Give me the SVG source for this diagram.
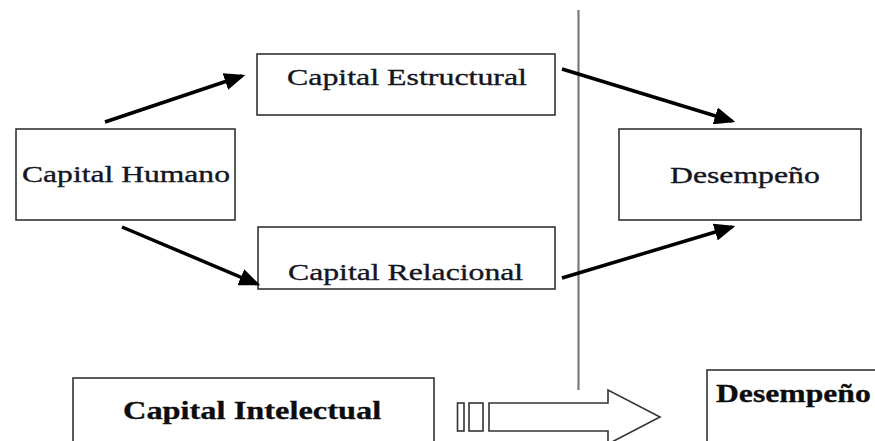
<svg xmlns="http://www.w3.org/2000/svg" width="875" height="441" viewBox="0 0 875 441">
  <style>
    .box { fill: #ffffff; stroke: #333333; stroke-width: 1.6; }
    .lbl { font-family: "Liberation Serif", "Times New Roman", serif; font-size: 24px; fill: #15151f; stroke: #15151f; stroke-width: 0.35; }
    .bold { font-weight: bold; font-size: 25px; fill: #0d0d0d; stroke: #0d0d0d; stroke-width: 0.3; }
    .link { stroke: #000000; stroke-width: 3.5; fill: none; marker-end: url(#head); }
    .outline { fill: #ffffff; stroke: #333333; stroke-width: 1.6; }
  </style>
  <defs>
    <marker id="head" markerWidth="6" markerHeight="5" refX="5" refY="2.5" orient="auto" markerUnits="strokeWidth">
      <path d="M0,0 L6,2.5 L0,5 Z" fill="#000000"/>
    </marker>
  </defs>

  <rect width="875" height="441" fill="#ffffff"/>

  <!-- divider between upper and lower parts -->
  <line x1="578.5" y1="10" x2="578.5" y2="390" stroke="#7a7a7a" stroke-width="2.2"/>

  <g id="capital-humano">
    <rect class="box" x="16" y="129" width="219" height="91"/>
    <text class="lbl" transform="translate(22,182) scale(1.317,1)">Capital Humano</text>
  </g>

  <g id="capital-estructural">
    <rect class="box" x="257" y="54" width="298" height="61"/>
    <text class="lbl" transform="translate(287,85) scale(1.329,1)">Capital Estructural</text>
  </g>

  <g id="capital-relacional">
    <rect class="box" x="258" y="227" width="297" height="62"/>
    <text class="lbl" transform="translate(288,280) scale(1.322,1)">Capital Relacional</text>
  </g>

  <g id="desempeno">
    <rect class="box" x="619" y="129" width="242" height="91"/>
    <text class="lbl" transform="translate(670,183) scale(1.322,1)">Desempeño</text>
  </g>

  <g id="connectors">
    <line class="link" x1="105" y1="122" x2="242" y2="76"/>
    <line class="link" x1="122" y1="227" x2="257" y2="284"/>
    <line class="link" x1="562" y1="69" x2="732" y2="121"/>
    <line class="link" x1="562" y1="278" x2="732" y2="227"/>
  </g>

  <g id="capital-intelectual">
    <rect class="box" x="73" y="378" width="361" height="80"/>
    <text class="lbl bold" transform="translate(123,419) scale(1.296,1)">Capital Intelectual</text>
  </g>

  <g id="big-arrow">
    <rect class="outline" x="457.5" y="403" width="6.5" height="28"/>
    <rect class="outline" x="469" y="403" width="14" height="28"/>
    <path class="outline" d="M489,403 L608,403 L608,390 L660,417 L608,444 L608,431 L489,431 Z"/>
  </g>

  <g id="desempeno-total">
    <rect class="box" x="707" y="370" width="190" height="90"/>
    <text class="lbl bold" transform="translate(716,402) scale(1.267,1)">Desempeño</text>
  </g>
</svg>
